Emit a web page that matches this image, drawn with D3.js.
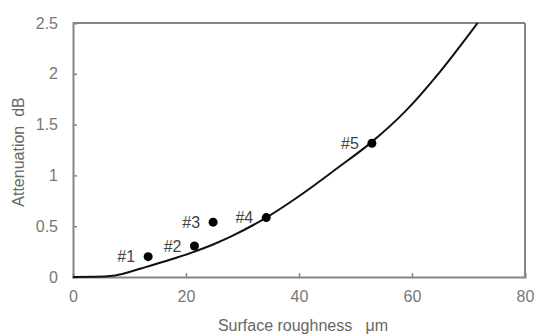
<!DOCTYPE html>
<html>
<head>
<meta charset="utf-8">
<script src="https://cdn.jsdelivr.net/npm/d3@7"></script>
<style>
  body { margin: 0; background: #fff; }
  svg { display: block; font-family: "Liberation Sans", Arial, sans-serif; }
  svg text { white-space: pre; }
</style>
</head>
<body>
<svg id="chart"></svg>
<script>
// measured samples (roughness in um, attenuation in dB)
const sampleNames = ["#1", "#2", "#3", "#4", "#5"];
const sampleRoughness = [13.3, 21.5, 24.8, 34.2, 52.9];
const sampleAttenuation = [0.20, 0.305, 0.54, 0.585, 1.316];

// fitted curve
const curveRoughness = [0, 4, 7, 10, 13, 17, 21, 25, 28, 34.2, 40.5, 46.5, 52.9, 58.8, 64.8, 71.6];
const curveAttenuation = [0, 0.002, 0.012, 0.05, 0.1, 0.167, 0.24, 0.325, 0.4, 0.585, 0.815, 1.06, 1.33, 1.63, 2.01, 2.5];

const xTicks = [0, 20, 40, 60, 80];
const yTicks = [0, 0.5, 1, 1.5, 2, 2.5];

const width = 534, height = 335;
const margin = { top: 23, right: 9, bottom: 58, left: 73 };
const w = width - margin.left - margin.right;
const h = height - margin.top - margin.bottom;

const svg = d3.select("#chart").attr("width", width).attr("height", height);
const g = svg.append("g").attr("transform", `translate(${margin.left},${margin.top})`);

const x = d3.scaleLinear().domain([0, 80]).range([0, w]);
const y = d3.scaleLinear().domain([0, 2.5]).range([h, 0]);

// axes with inward ticks
const xAxis = g.append("g")
  .attr("transform", `translate(0,${h})`)
  .call(d3.axisBottom(x).tickValues(xTicks).tickSize(-4).tickPadding(14).tickFormat(d3.format("d")));
const yAxis = g.append("g")
  .call(d3.axisLeft(y).tickValues(yTicks).tickSize(-4).tickPadding(15).tickFormat(d => d));

[xAxis, yAxis].forEach(a => {
  a.select(".domain").attr("stroke", "#858585").attr("stroke-width", 2);
  a.selectAll(".tick line").attr("stroke", "#858585").attr("stroke-width", 1.5);
  a.selectAll(".tick text").attr("fill", "#777").style("font-size", "16px");
});
xAxis.selectAll(".tick").filter(d => d === 0 || d === 80).select("line").remove();
yAxis.selectAll(".tick").filter(d => d === 0 || d === 2.5).select("line").remove();

// frame top and right
g.append("line").attr("x1", 0).attr("x2", w).attr("y1", 0).attr("y2", 0)
  .attr("stroke", "#858585").attr("stroke-width", 2);
g.append("line").attr("x1", w).attr("x2", w).attr("y1", 0).attr("y2", h)
  .attr("stroke", "#858585").attr("stroke-width", 2);

// curve
const curve = curveRoughness.map((r, i) => ({ r, a: curveAttenuation[i] }));
g.append("path")
  .datum(curve)
  .attr("fill", "none")
  .attr("stroke", "#111")
  .attr("stroke-width", 2)
  .attr("d", d3.line().x(d => x(d.r)).y(d => y(d.a)).curve(d3.curveMonotoneX));

// samples
const samples = sampleNames.map((n, i) => ({ n, r: sampleRoughness[i], a: sampleAttenuation[i] }));
g.selectAll(".pt")
  .data(samples)
  .join("circle")
  .attr("class", "pt")
  .attr("cx", d => x(d.r))
  .attr("cy", d => y(d.a))
  .attr("r", 4.5)
  .attr("fill", "#000");

g.selectAll(".lbl")
  .data(samples)
  .join("text")
  .attr("class", "lbl")
  .attr("x", d => x(d.r) - 13)
  .attr("y", d => y(d.a))
  .attr("dy", "0.35em")
  .attr("text-anchor", "end")
  .attr("fill", "#444")
  .style("font-size", "16px")
  .text(d => d.n);

// axis titles
svg.append("text")
  .attr("x", margin.left + w / 2 + 4)
  .attr("y", 331)
  .attr("text-anchor", "middle")
  .attr("fill", "#666")
  .style("font-size", "16px")
  .text("Surface roughness   \u03bcm");

svg.append("text")
  .attr("transform", `translate(24,${margin.top + h / 2 + 2}) rotate(-90)`)
  .attr("text-anchor", "middle")
  .attr("fill", "#666")
  .style("font-size", "16px")
  .text("Attenuation  dB");
</script>
</body>
</html>
